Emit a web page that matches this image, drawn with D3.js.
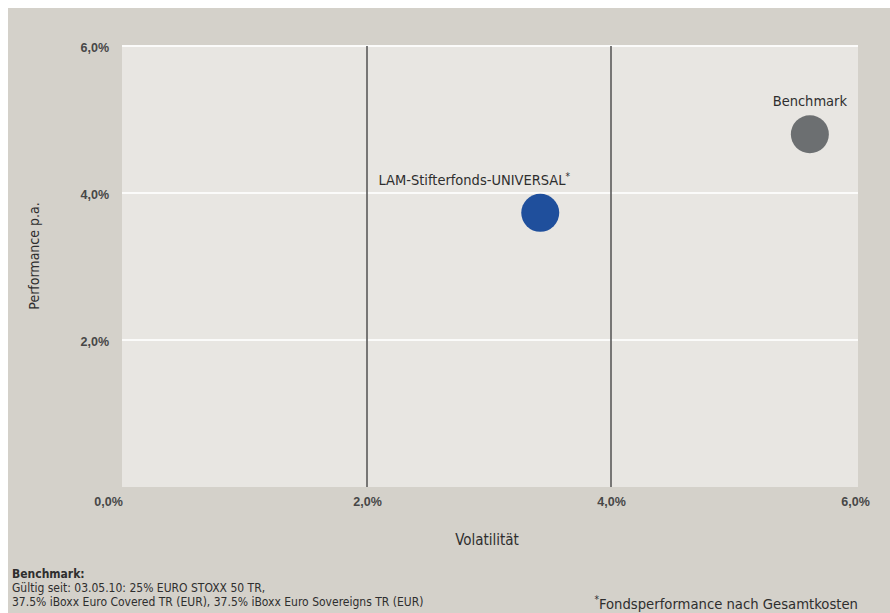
<!DOCTYPE html>
<html>
<head>
<meta charset="utf-8">
<script src="https://cdn.jsdelivr.net/npm/d3@7"></script>
<style>
	html, body { margin: 0; padding: 0; background: #fff; }
	svg { display: block; }
	.tick text { font-family: "Liberation Sans", Arial, sans-serif; font-size: 12.5px; font-weight: bold; fill: #474747; }
	.lbl { font-family: "DejaVu Sans Condensed", "Liberation Sans Narrow", sans-serif; fill: #2e2e2e; }
</style>
</head>
<body>
<svg id="chart" width="890" height="613"></svg>
<script>
// values (percent)
var funds = ['LAM-Stifterfonds-UNIVERSAL', 'Benchmark'],
	volatility = [3.42, 5.63],
	performance = [3.73, 4.80],
	colors = ['#1f4f9c', '#6c6f71'],
	starred = [true, false];

var xTicks = [0, 2, 4, 6],
	yTicks = [2, 4, 6];

var footLines = [
	'Gültig seit: 03.05.10: 25% EURO STOXX 50 TR,',
	'37.5% iBoxx Euro Covered TR (EUR), 37.5% iBoxx Euro Sovereigns TR (EUR)'
];

var pct = function(d) { return d.toFixed(1).replace('.', ',') + '%'; };

var svg = d3.select('svg#chart'),
	margin = {top: 46, right: 32, bottom: 126, left: 122},
	width = +svg.attr('width') - margin.left - margin.right,
	height = +svg.attr('height') - margin.top - margin.bottom;

// outer panel
svg.append('rect')
	.attr('x', 8).attr('y', 8)
	.attr('width', 882).attr('height', 605)
	.attr('fill', '#d4d1ca');

var g = svg.append('g').attr('transform', 'translate(' + margin.left + ',' + margin.top + ')');

var x = d3.scaleLinear().domain([0, 6]).range([1, width - 3]),
	y = d3.scaleLinear().domain([0, 6]).range([height, 0]);

g.append('rect')
	.attr('width', width)
	.attr('height', height)
	.attr('fill', '#e8e6e2');

// horizontal white grid
g.selectAll('.hgrid')
	.data(yTicks)
	.enter().append('line')
	.attr('class', 'hgrid')
	.attr('x1', 0).attr('x2', width)
	.attr('y1', d => y(d)).attr('y2', d => y(d))
	.attr('stroke', '#fbfbfa')
	.attr('stroke-width', 2);

// vertical dark grid
g.selectAll('.vgrid')
	.data([2, 4])
	.enter().append('line')
	.attr('class', 'vgrid')
	.attr('y1', 0).attr('y2', height)
	.attr('x1', d => x(d)).attr('x2', d => x(d))
	.attr('stroke', '#5a5a5a')
	.attr('stroke-width', 1.6);

g.append('g')
	.attr('transform', 'translate(0,' + height + ')')
	.call(d3.axisBottom(x).tickValues(xTicks).tickFormat(pct).tickSize(0).tickPadding(10))
	.call(a => a.select('.domain').remove())
	.selectAll('text').attr('dx', d => d === 0 ? -15 : 0);

g.append('g')
	.call(d3.axisLeft(y).tickValues(yTicks).tickFormat(pct).tickSize(0).tickPadding(13))
	.call(a => a.select('.domain').remove())
	.selectAll('text').attr('dy', '0.4em');

// points
var pts = g.selectAll('.pt')
	.data(funds)
	.enter().append('g')
	.attr('class', 'pt');

pts.append('circle')
	.attr('cx', (d, i) => x(volatility[i]))
	.attr('cy', (d, i) => y(performance[i]))
	.attr('r', 19)
	.attr('fill', (d, i) => colors[i]);

var lab = pts.append('text')
	.attr('class', 'lbl')
	.attr('x', (d, i) => x(volatility[i]) - (starred[i] ? 66 : 0))
	.attr('y', (d, i) => y(performance[i]) - 28)
	.attr('text-anchor', 'middle')
	.style('font-size', '14.5px')
	.text(d => d);
lab.filter((d, i) => starred[i])
	.append('tspan')
	.attr('dy', '-0.45em')
	.style('font-size', '10px')
	.text('*');

// axis titles
svg.append('text')
	.attr('class', 'lbl')
	.attr('x', 487).attr('y', 545)
	.attr('text-anchor', 'middle')
	.style('font-size', '15px')
	.text('Volatilität');

svg.append('text')
	.attr('class', 'lbl')
	.attr('transform', 'translate(39,256) rotate(-90)')
	.attr('text-anchor', 'middle')
	.style('font-size', '14px')
	.text('Performance p.a.');

// footer
svg.append('text')
	.attr('class', 'lbl')
	.attr('x', 12).attr('y', 578)
	.style('font-size', '12px')
	.style('font-weight', 'bold')
	.text('Benchmark:');

svg.selectAll('.foot')
	.data(footLines)
	.enter().append('text')
	.attr('class', 'lbl foot')
	.attr('x', 12)
	.attr('y', (d, i) => 592 + i * 13.5)
	.style('font-size', '12px')
	.text(d => d);

var note = svg.append('text')
	.attr('class', 'lbl')
	.attr('x', 858).attr('y', 607)
	.attr('text-anchor', 'end')
	.style('font-size', '14.7px');
note.append('tspan').attr('dy', '-0.4em').style('font-size', '10px').text('*');
note.append('tspan').attr('dy', '0.4em').text('Fondsperformance nach Gesamtkosten');
</script>
</body>
</html>
